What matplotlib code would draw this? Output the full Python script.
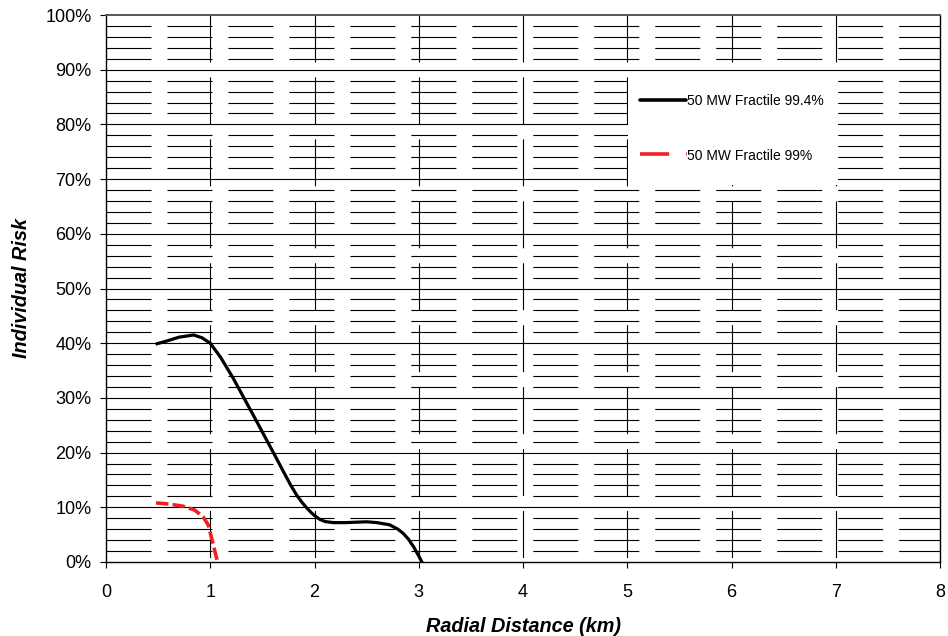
import matplotlib
matplotlib.use("Agg")
import matplotlib.pyplot as plt
import matplotlib.transforms as mtransforms
from matplotlib.ticker import FuncFormatter

plt.rcParams['font.family'] = ['Liberation Sans', 'DejaVu Sans']
plt.rcParams['lines.scale_dashes'] = False

# Radial distance (km) and individual risk (%) for the two fractiles
dist_994 = [0.49, 0.6, 0.7, 0.84, 0.92, 1.0, 1.1, 1.22, 1.4, 1.6, 1.7, 1.77,
            1.83, 1.88, 1.925, 1.97, 2.0, 2.05, 2.1, 2.18, 2.3, 2.5, 2.6,
            2.72, 2.8, 2.85, 2.9, 2.95, 3.0, 3.03]
risk_994 = [39.9, 40.5, 41.1, 41.5, 41.0, 40.0, 37.4, 33.6, 27.3, 20.2, 16.6,
            14.1, 12.2, 10.9, 9.9, 9.0, 8.5, 7.8, 7.4, 7.2, 7.2, 7.35, 7.2,
            6.8, 6.0, 5.25, 4.2, 2.8, 1.1, 0.0]

dist_99 = [0.48, 0.6, 0.74, 0.85, 0.93, 0.98, 1.01, 1.04, 1.07]
risk_99 = [10.8, 10.6, 10.2, 9.5, 8.3, 6.8, 4.6, 2.3, 0.0]

series_labels = ['50 MW Fractile 99.4%', '50 MW Fractile 99%']

x_ticks = list(range(0, 9))
y_major = list(range(0, 101, 10))
y_minor = [v for v in range(2, 100, 2) if v % 10 != 0]

W, H = 948, 636
fig = plt.figure(figsize=(W / 100, H / 100), dpi=100)
ax = fig.add_axes([106 / W, 1 - 562 / H, (940 - 106) / W, (562 - 15) / H])
ax.set_xlim(0, 8)
ax.set_ylim(0, 100)

# Gridlines: solid major rows, dashed minor rows, dashed verticals
for v in y_major[1:-1]:
    ax.axhline(v, color='black', lw=0.8, zorder=1)
for v in y_minor:
    ax.plot([0, 8], [v, v], color='black', lw=0.8,
            linestyle=(0, (32.4, 11.5)), zorder=1)
blend = mtransforms.blended_transform_factory(ax.transData, ax.transAxes)
for x in x_ticks[1:-1]:
    ax.plot([x, x], [1, 0], transform=blend, color='black', lw=0.8,
            linestyle=(0, (33.8, 10.8)), zorder=1)

ax.plot(dist_994, risk_994, color='black', lw=2.3, zorder=3,
        solid_joinstyle='round')
ax.plot(dist_99, risk_99, color='#ee2224', lw=2.6, zorder=3,
        linestyle=(0, (9, 3)))

ax.set_xticks(x_ticks)
ax.set_yticks(y_major)
ax.yaxis.set_major_formatter(FuncFormatter(lambda v, p: f"{int(v)}%"))
ax.tick_params(axis='both', direction='out', length=4.5, width=0.8,
               labelsize=13, colors='black')
ax.tick_params(axis='x', pad=11)
ax.tick_params(axis='y', pad=6)
for s in ax.spines.values():
    s.set_linewidth(1.0)
    s.set_color('black')
ax.spines['top'].set_color('#555555')
ax.spines['top'].set_linewidth(1.4)

ax.set_xlabel('Radial Distance (km)', fontsize=14.3, fontweight='bold',
              fontstyle='italic')
ax.set_ylabel('Individual Risk', fontsize=14.3, fontweight='bold',
              fontstyle='italic')
ax.xaxis.set_label_coords(0.5, -(627 - 562) / 547)
ax.xaxis.label.set_va('center')
ax.yaxis.set_label_coords(-(106 - 22) / 834, 0.5)
ax.yaxis.label.set_va('center')

# Legend panel
box = plt.Rectangle((628 / W, 1 - 185 / H), (838 - 628) / W, (185 - 73) / H,
                    transform=fig.transFigure, facecolor='white',
                    edgecolor='none', zorder=4)
fig.patches.append(box)
fig.add_artist(plt.Line2D([640 / W, 686 / W], [1 - 100 / H] * 2,
                          color='black', lw=2.6, transform=fig.transFigure,
                          solid_capstyle='round', zorder=5))
fig.add_artist(plt.Line2D([640 / W, 687 / W], [1 - 154 / H] * 2,
                          color='#ee2224', lw=2.6, transform=fig.transFigure,
                          linestyle=(0, (21, 12.3)), zorder=5))
fig.text(687 / W, 1 - 101 / H, series_labels[0], fontsize=10,
         va='center', ha='left', zorder=6)
fig.text(687 / W, 1 - 156 / H, series_labels[1], fontsize=10,
         va='center', ha='left', zorder=6)

fig.savefig('out.png', dpi=100)
